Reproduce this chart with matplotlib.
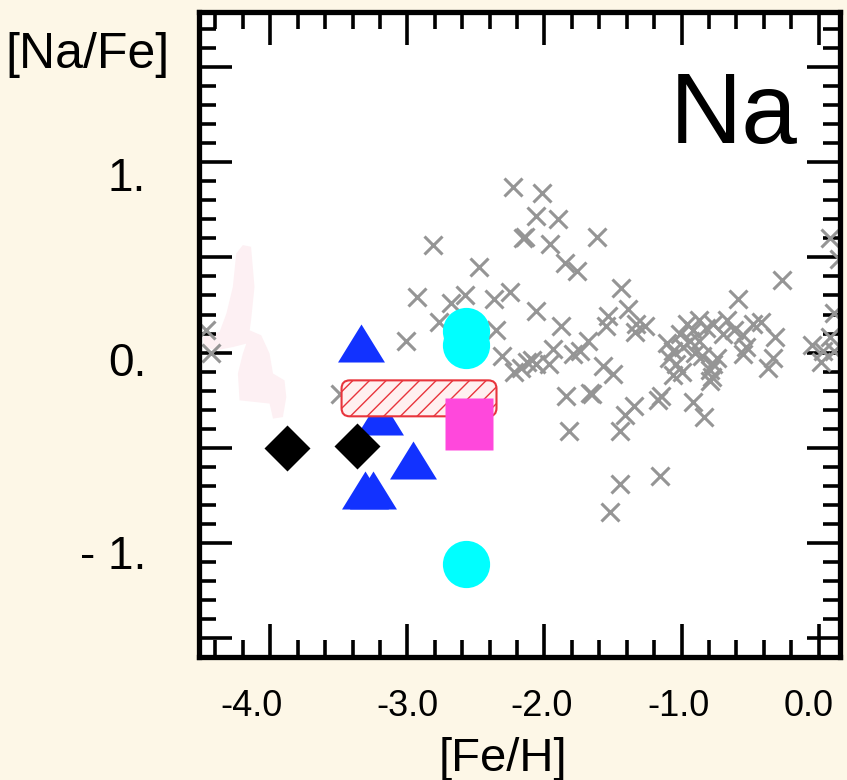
import matplotlib
matplotlib.use('Agg')
import matplotlib.pyplot as plt
from matplotlib.patches import FancyBboxPatch
from matplotlib.ticker import FixedLocator, MultipleLocator
from matplotlib.transforms import ScaledTranslation

plt.rcParams['font.family'] = ['Liberation Sans', 'DejaVu Sans']

# field stars (gray crosses)
field_feh = [-2.23, -2.02, -2.06, -1.90, -2.16, -2.14, -1.96, -1.62, -2.81, -1.85,
             -1.76, -2.48, -1.44, -2.25, -2.37, -2.93, -2.58, -2.68, -2.06, -1.88,
             -1.54, -1.55, -1.39, -1.33, -1.27, -1.34, -2.35, -2.77, -3.01, -3.49,
             -2.31, -2.22, -2.17, -2.09, -2.13, -2.06, -1.97, -1.94, -1.79, -1.74,
             -1.68, -1.57, -1.50,
             -1.84, -1.67, -1.65, -1.82, -1.45, -1.41, -1.35, -1.17, -1.15, -0.92,
             -0.84, -1.06, -0.78, -1.45, -1.16, -1.52,
             -0.59, -0.27, -1.11, -1.06, -1.01, -0.96, -0.92, -0.87, -0.82, -0.77,
             -0.94, -0.87, -1.04, -1.09, -0.77, -0.79, -0.74, -0.79, -0.67, -0.62,
             -0.55, -0.53, -0.55, -0.48, -0.42, -0.32, -0.33, -0.37, -0.99, -0.90,
             -0.85, -0.70, -1.00,
             -0.05, 0.03, 0.08, 0.02, 0.11, 0.08, 0.15, 0.11, -4.47, -4.43]
field_nafe = [0.87, 0.84, 0.72, 0.70, 0.60, 0.61, 0.57, 0.61, 0.565, 0.47,
              0.43, 0.45, 0.34, 0.32, 0.28, 0.29, 0.30, 0.26, 0.22, 0.14,
              0.19, 0.14, 0.23, 0.15, 0.14, 0.11, 0.12, 0.16, 0.06, -0.22,
              -0.02, -0.10, -0.08, -0.04, -0.05, -0.06, -0.06, 0.02, -0.01, 0.01,
              0.06, -0.07, -0.11,
              -0.23, -0.21, -0.22, -0.41, -0.41, -0.33, -0.28, -0.25, -0.23, -0.26,
              -0.34, -0.12, -0.13, -0.69, -0.65, -0.84,
              0.28, 0.38, 0.05, 0.01, 0.10, 0.15, 0.12, 0.17, 0.13, 0.15,
              0.06, 0.06, -0.06, -0.03, -0.06, -0.09, -0.03, -0.15, 0.17, 0.12,
              0.09, 0.03, -0.01, 0.15, 0.16, 0.08, -0.03, -0.08, 0.03, 0.00,
              -0.02, 0.10, -0.10,
              0.04, 0.01, 0.08, -0.05, 0.01, 0.60, 0.49, 0.21, 0.12, 0.00]

tri_feh = [-3.34, -3.20, -2.96, -3.31, -3.25]
tri_nafe = [0.05, -0.335, -0.567, -0.72, -0.72]

dia_feh = [-3.88, -3.37]
dia_nafe = [-0.50, -0.49]

circ_feh = [-2.57, -2.57, -2.57]
circ_nafe = [0.114, 0.042, -1.109]

sq_feh = [-2.553]
sq_nafe = [-0.374]

# hatched range
box_feh = [-3.48, -2.35]
box_nafe = [-0.335, -0.146]

# faint pink region on the left
blob_feh = [-4.20, -4.14, -4.115, -4.14, -4.15, -4.066, -4.005, -3.98, -3.896, -3.883,
            -3.908, -3.98, -4.005, -4.224, -4.236, -4.20, -4.175, -4.273, -4.394, -4.479,
            -4.492, -4.37, -4.32, -4.273, -4.248]
blob_nafe = [0.565, 0.556, 0.345, 0.17, 0.117, 0.091, -0.005, -0.11, -0.146, -0.234,
             -0.339, -0.347, -0.268, -0.251, -0.11, -0.005, 0.047, 0.029, 0.012, 0.029,
             0.082, 0.108, 0.205, 0.345, 0.521]

xticks = [-4.0, -3.0, -2.0, -1.0, 0.0]
xticklabels = ['-4.0', '-3.0', '-2.0', '-1.0', '0.0']
xlabel_dx = [-19, 0, -3, -3, -10]
yticks = [1.5, 1.0, 0.5, 0.0, -0.5, -1.0, -1.5]
yticklabels = ['', '1.', '', '0.', '', '- 1.', '']
ylabel_dy = [0, -12, 0, -6, 0, -9, 0]

fig = plt.figure(figsize=(8.47, 7.80), dpi=100, facecolor='#fdf7e7')
ax = fig.add_axes([0.2349, 0.1577, 0.7568, 0.8269])
ax.set_facecolor('white')
ax.set_xlim(-4.52, 0.155)
ax.set_ylim(-1.60, 1.79)

ax.fill(blob_feh, blob_nafe, color='#fdf0f3', lw=0, zorder=1)
ax.plot(field_feh, field_nafe, 'x', color='#959595', ms=13, mew=2.2, zorder=2)

tri = [(-1, -0.81), (1, -0.81), (0, 0.81)]
ax.plot(tri_feh, tri_nafe, ls='none', marker=tri, color='#1232ff', ms=33.8,
        mec='none', zorder=3.5)
ax.plot(dia_feh, dia_nafe, 'D', color='black', ms=23.4, mec='none', zorder=4)
ax.plot(circ_feh, circ_nafe, 'o', color='#00ffff', ms=34, mec='none', zorder=4)

box = FancyBboxPatch((box_feh[0], box_nafe[0]), box_feh[1] - box_feh[0],
                     box_nafe[1] - box_nafe[0],
                     boxstyle='round,pad=0,rounding_size=0.06', mutation_aspect=0.72,
                     fc='#fff0f0', ec='#e8343c', hatch='//', lw=1.5, zorder=5)
ax.add_patch(box)

rect = [(-0.9, -1), (0.9, -1), (0.9, 1), (-0.9, 1)]
ax.plot(sq_feh, sq_nafe, ls='none', marker=rect, color='#ff48dc', ms=38,
        mec='none', zorder=6)

ax.xaxis.set_major_locator(FixedLocator(xticks))
ax.set_xticklabels(xticklabels)
ax.xaxis.set_minor_locator(MultipleLocator(0.2))
ax.yaxis.set_major_locator(FixedLocator(yticks))
ax.set_yticklabels(yticklabels)
ax.yaxis.set_minor_locator(MultipleLocator(0.1))

ax.tick_params(which='both', direction='in', top=True, right=True, width=2.6,
               color='black')
ax.tick_params(which='major', length=24)
ax.tick_params(which='minor', length=12)
ax.tick_params(axis='x', labelsize=26, pad=23)
ax.tick_params(axis='y', labelsize=33, pad=38)
for s in ax.spines.values():
    s.set_linewidth(3.8)

for lbl, dx in zip(ax.get_xticklabels(), xlabel_dx):
    lbl.set_transform(lbl.get_transform() +
                      ScaledTranslation(dx / 100, 0, fig.dpi_scale_trans))
for lbl, dy in zip(ax.get_yticklabels(), ylabel_dy):
    lbl.set_transform(lbl.get_transform() +
                      ScaledTranslation(0, dy / 100, fig.dpi_scale_trans))

ax.text(0.934, 0.797, 'Na', transform=ax.transAxes, ha='right', va='baseline',
        fontsize=72)
fig.text(170 / 847, 1 - 68 / 780, '[Na/Fe]', ha='right', va='baseline', fontsize=36)
fig.text(503 / 847, 1 - 771 / 780, '[Fe/H]', ha='center', va='baseline', fontsize=34)

fig.savefig('out.png', dpi=100, facecolor=fig.get_facecolor())
